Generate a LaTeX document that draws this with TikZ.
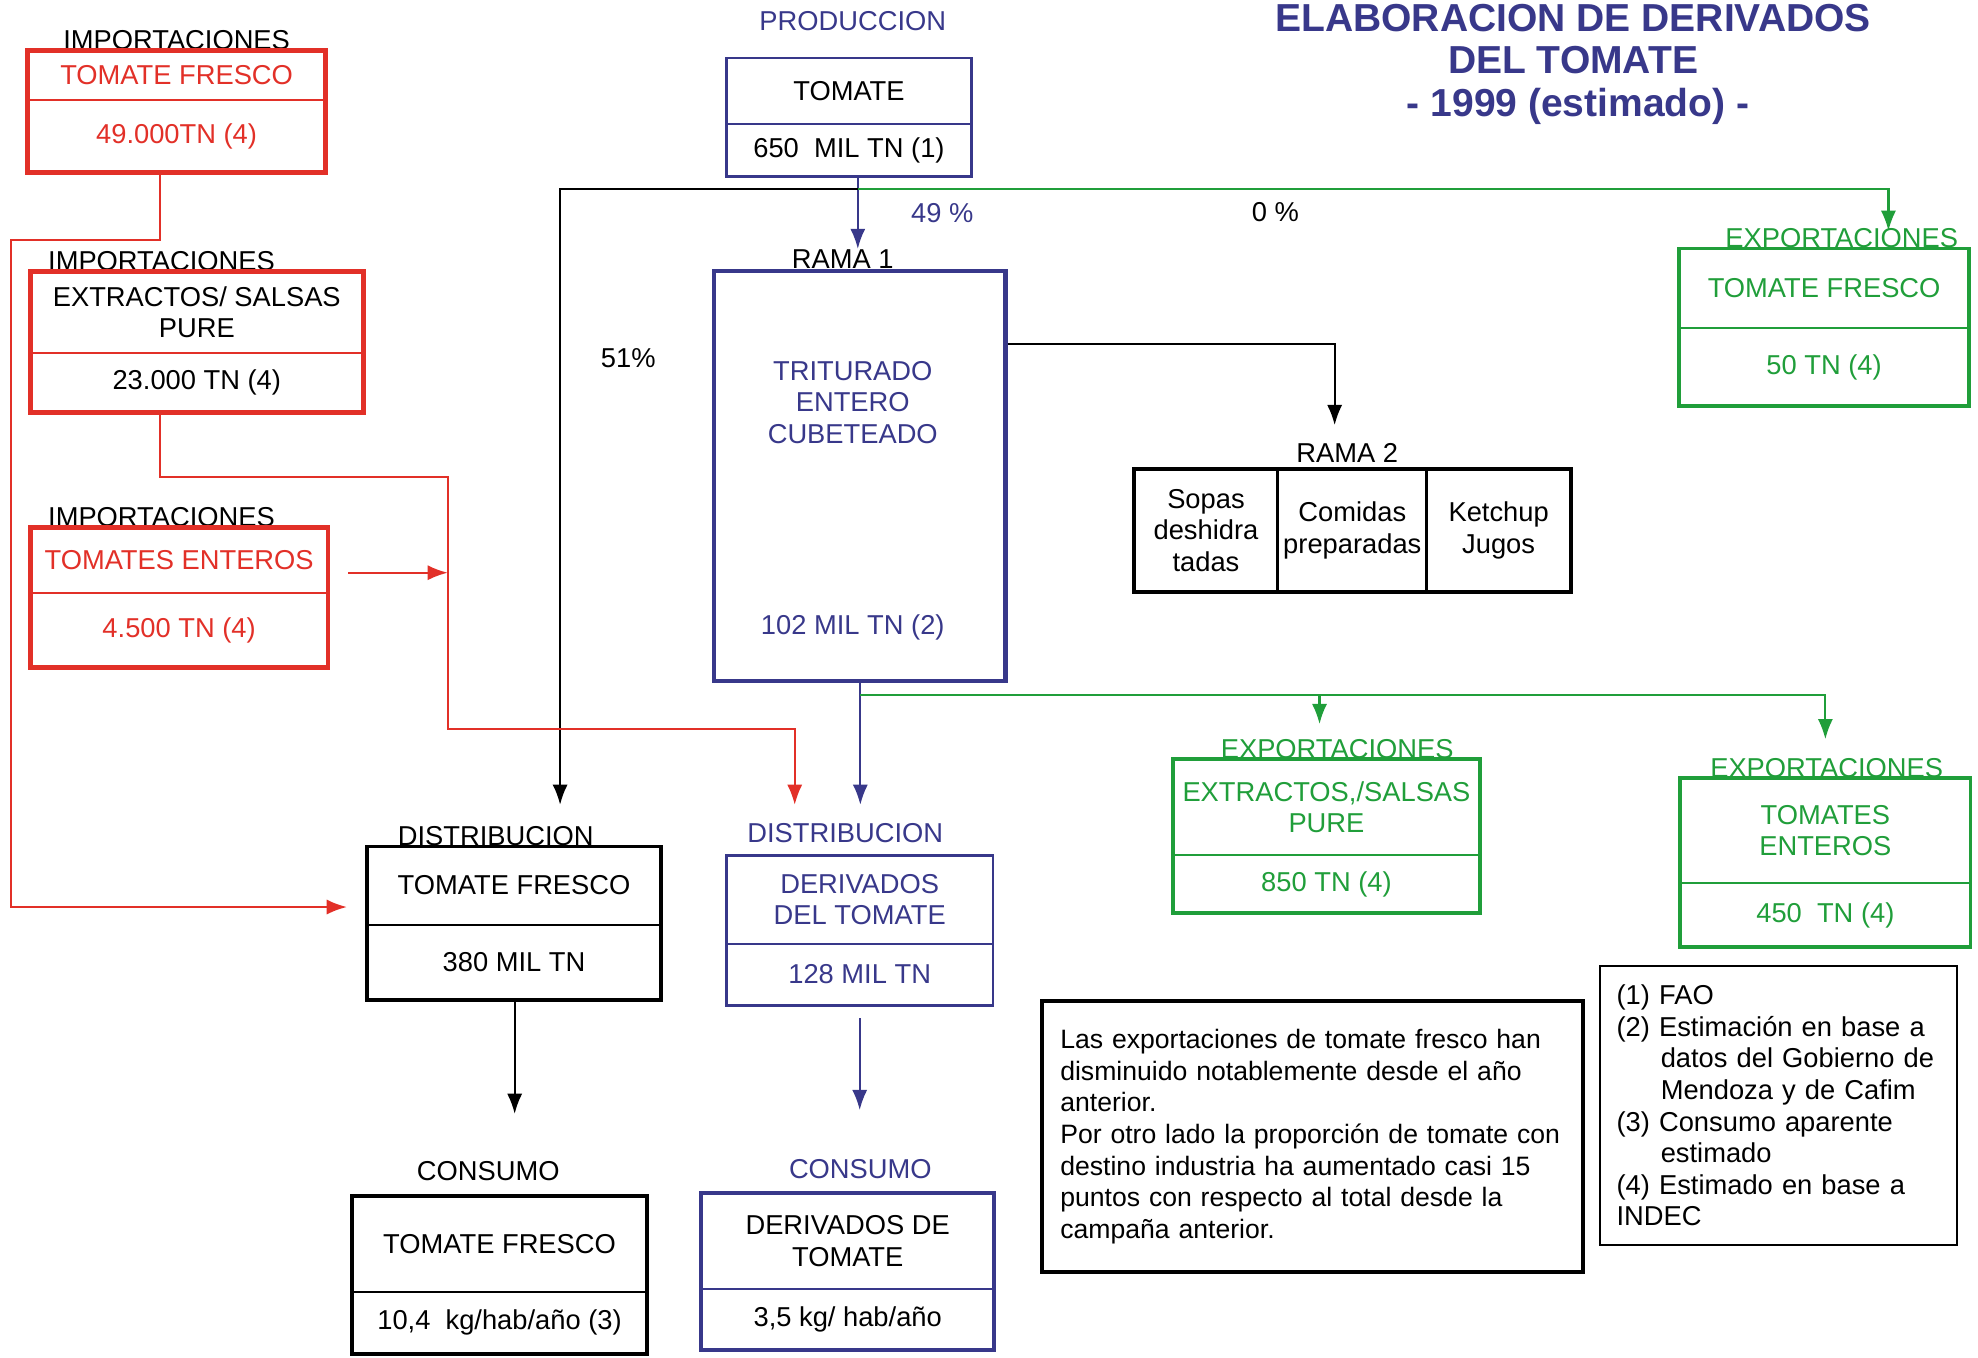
\documentclass[tikz,border=0pt]{standalone}
\usepackage{fontspec}
\setmainfont{Liberation Sans}
\usetikzlibrary{positioning,arrows.meta}

\definecolor{impred}{RGB}{226,48,40}
\definecolor{expgreen}{RGB}{32,158,58}
\definecolor{prodblue}{RGB}{56,56,138}

\tikzstyle{boxpart}=[outer sep=0pt, inner sep=1pt, align=center]
\tikzstyle{cell}=[draw, line width=0.8pt, outer sep=0pt, inner sep=1pt, align=center, minimum height=1.2125cm]
\tikzstyle{redframe}=[draw=impred, line width=1.4pt]
\tikzstyle{greenframe}=[draw=expgreen, line width=1.1pt]
\tikzstyle{blackframe}=[draw=black, line width=1.1pt]
\tikzstyle{thinframe}=[draw=black, line width=0.6pt]
\tikzstyle{bluethick}=[draw=prodblue, line width=1.1pt]
\tikzstyle{bluethin}=[draw=prodblue, line width=0.7pt]
\tikzstyle{tag}=[inner sep=0pt, anchor=base]
\tikzstyle{titletext}=[text=prodblue, font=\bfseries\fontsize{11}{13}\selectfont]
\tikzstyle{dep}=[-{Latex[length=2mm,width=1.5mm]}, line width=0.6pt]

% box with a name part on top and an amount part below
\newcommand{\twobox}[9]{%
  \node[boxpart, #7, minimum width=#3, minimum height=#4, anchor=north] (#1top) at #2 {#8};
  \node[boxpart, #7, minimum width=#3, minimum height=#5, below=0pt of #1top] (#1bot) {#9};
  \draw[#6, line width=0.6pt] (#1top.south west) -- (#1top.south east);
  \draw[#6] (#1top.north west) rectangle (#1bot.south east);
}

\begin{document}
\begin{tikzpicture}[font=\fontsize{7.7}{8.9}\selectfont]
  \useasboundingbox (0,0) rectangle (19.6,-13.45);

  % title
  \node[titletext] (title1) at (15.5875,-0.175) {ELABORACION DE DERIVADOS};
  \node[titletext] (title2) at (15.5875,-0.6) {DEL TOMATE};
  \node[titletext] (title3) at (15.6375,-1.05) {- 1999 (estimado) -};

  % imports
  \node[tag] (impAlbl) at (1.75,-0.49) {IMPORTACIONES};
  \twobox{impA}{(1.75,-0.5)}{2.95cm}{0.4875cm}{0.725cm}{redframe}{text=impred}{TOMATE FRESCO}{49.000TN (4)}
  \node[tag] (impBlbl) at (1.6,-2.68) {IMPORTACIONES};
  \twobox{impB}{(1.95,-2.6875)}{3.3cm}{0.8125cm}{0.5875cm}{redframe}{}{EXTRACTOS/ SALSAS\\PURE}{23.000 TN (4)}
  \node[tag] (impClbl) at (1.6,-5.22) {IMPORTACIONES};
  \twobox{impC}{(1.775,-5.225)}{2.95cm}{0.65cm}{0.7375cm}{redframe}{text=impred}{TOMATES ENTEROS}{4.500 TN (4)}

  % production
  \node[tag, text=prodblue] (prodlbl) at (8.45,-0.3) {PRODUCCION};
  \twobox{prod}{(8.4125,-0.575)}{2.425cm}{0.65cm}{0.525cm}{bluethin}{}{TOMATE}{650~~MIL TN (1)}

  % rama 1
  \node[tag] (r1lbl) at (8.35,-2.66) {RAMA 1};
  \node[bluethick, line width=1.2pt, minimum width=2.8875cm, minimum height=4.0625cm, anchor=north, inner sep=0pt] (rama1) at (8.51875,-2.6625) {};
  \node[text=prodblue, align=center] (r1name) at (8.45,-3.9875) {TRITURADO\\ENTERO\\CUBETEADO};
  \node[text=prodblue] (r1amt) at (8.45,-6.2125) {102 MIL TN (2)};

  % rama 2
  \node[tag] (r2lbl) at (13.35,-4.58) {RAMA 2};
  \node[cell, minimum width=1.425cm, anchor=north west] (sopas) at (11.2375,-4.65) {Sopas\\deshidra\\tadas};
  \node[cell, minimum width=1.475cm, right=0pt of sopas] (comidas) {Comidas\\preparadas};
  \node[cell, minimum width=1.425cm, right=0pt of comidas] (ketchup) {Ketchup\\Jugos};
  \draw[blackframe] (sopas.north west) rectangle (ketchup.south east);

  % exports
  \node[tag, text=expgreen] (expAlbl) at (18.25,-2.455) {EXPORTACIONES};
  \twobox{expA}{(18.075,-2.4625)}{2.875cm}{0.7875cm}{0.775cm}{greenframe}{text=expgreen}{TOMATE FRESCO}{50 TN (4)}
  \node[tag, text=expgreen] (expBlbl) at (13.25,-7.515) {EXPORTACIONES};
  \twobox{expB}{(13.14375,-7.525)}{3.0375cm}{0.95cm}{0.575cm}{greenframe}{text=expgreen}{EXTRACTOS,/SALSAS\\PURE}{850 TN (4)}
  \node[tag, text=expgreen] (expClbl) at (18.1,-7.7) {EXPORTACIONES};
  \twobox{expC}{(18.0875,-7.7125)}{2.875cm}{1.0375cm}{0.6375cm}{greenframe}{text=expgreen}{TOMATES\\ENTEROS}{450~~TN (4)}

  % distribution
  \node[tag] (distTFlbl) at (4.9125,-8.375) {DISTRIBUCION};
  \twobox{distTF}{(5.09375,-8.3875)}{2.9125cm}{0.775cm}{0.75cm}{blackframe}{}{TOMATE FRESCO}{380 MIL TN}
  \node[tag, text=prodblue] (distDerlbl) at (8.375,-8.35) {DISTRIBUCION};
  \twobox{distDer}{(8.51875,-8.475)}{2.6375cm}{0.875cm}{0.6125cm}{bluethin}{text=prodblue}{DERIVADOS\\DEL TOMATE}{128 MIL TN}

  % consumption
  \node[tag] (conTFlbl) at (4.8375,-11.7) {CONSUMO};
  \twobox{conTF}{(4.95,-11.85)}{2.925cm}{0.95cm}{0.6125cm}{blackframe}{}{TOMATE FRESCO}{10,4~~kg/hab/año (3)}
  \node[tag, text=prodblue] (conDerlbl) at (8.525,-11.675) {CONSUMO};
  \twobox{conDer}{(8.4,-11.825)}{2.9cm}{0.95cm}{0.6cm}{bluethick}{}{DERIVADOS DE\\TOMATE}{3,5 kg/ hab/año}

  % shares
  \node[text=prodblue] (pc49) at (9.3375,-2.1125) {49 \%};
  \node (pc0) at (12.6375,-2.1) {0 \%};
  \node (pc51) at (6.225,-3.55) {51\%};

  % notes
  \node[blackframe, font=\fontsize{7.5}{8.9}\selectfont, text width=5.0cm, inner xsep=0.18cm, minimum height=2.6875cm, align=left, anchor=north] (note) at (13.00625,-9.9)
    {Las exportaciones de tomate fresco han\\disminuido notablemente desde el año\\anterior.\\Por otro lado la proporción de tomate con\\destino industria ha aumentado casi 15\\puntos con respecto al total desde la\\campaña anterior.};
  \node[thinframe, text width=3.2cm, inner xsep=0.16875cm, minimum height=2.7625cm, align=left, anchor=north] (sources) at (17.61875,-9.5625)
    {(1) FAO\\(2) Estimación en base a\\\hspace*{0.4375cm}datos del Gobierno de\\\hspace*{0.4375cm}Mendoza y de Cafim\\(3) Consumo aparente\\\hspace*{0.4375cm}estimado\\(4) Estimado en base a\\INDEC};

  % flows from production
  \coordinate (fork) at (8.5,-1.875);
  \coordinate (tfIn) at (5.55,-7.975);
  \coordinate (expAin) at (18.7125,-2.2875);
  \draw[dep, prodblue] (prodbot.south -| fork) -- (r1lbl.north -| fork);
  \draw[dep] (fork) -| (tfIn);
  \draw[dep, expgreen] (fork) -| (expAin);

  % flows from rama 1
  \coordinate (r2in) at (13.225,-4.2125);
  \coordinate (derIn) at (8.525,-7.975);
  \coordinate (gfork) at (8.525,-6.8875);
  \coordinate (expBin) at (13.075,-7.175);
  \coordinate (expCin) at (18.0875,-7.325);
  \draw[dep] ([yshift=-0.75cm]rama1.north east) -| (r2in);
  \draw[dep, prodblue] (rama1.south -| derIn) -- (derIn);
  \draw[dep, expgreen] (gfork) -| (expBin);
  \draw[dep, expgreen] (gfork) -| (expCin);

  % flows from imports
  \coordinate (redA) at (1.5875,-2.375);
  \coordinate (redEdge) at (0.1125,-2.375);
  \coordinate (tfRedIn) at (3.4375,-8.9875);
  \draw[dep, impred] (impAbot.south -| redA) -- (redA) -- (redEdge) |- (tfRedIn);
  \coordinate (redB) at (1.5875,-4.725);
  \coordinate (redRise) at (4.4375,-4.725);
  \coordinate (redDrop) at (4.4375,-7.225);
  \coordinate (derRedIn) at (7.875,-7.975);
  \draw[dep, impred] (impBbot.south -| redB) -- (redB) -- (redRise) -- (redDrop) -| (derRedIn);
  \coordinate (redCout) at ([xshift=0.2cm]impCtop.east);
  \coordinate (redJoin) at (4.4375,-5.675);
  \draw[dep, impred] (redCout |- redJoin) -- (redJoin);

  % flows to consumption
  \coordinate (tfDown) at (5.1,-11.0375);
  \coordinate (derDown) at (8.51875,-11.0);
  \draw[dep] (distTFbot.south -| tfDown) -- (tfDown);
  \draw[dep, prodblue] ([yshift=-0.125cm]distDerbot.south) -- (derDown);
\end{tikzpicture}
\end{document}
